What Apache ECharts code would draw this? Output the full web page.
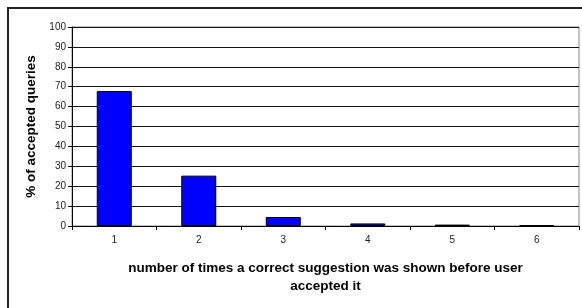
<!DOCTYPE html>
<html>
<head>
<meta charset="utf-8">
<script src="https://cdn.jsdelivr.net/npm/echarts@6/dist/echarts.min.js"></script>
<style>
  html, body { margin: 0; padding: 0; background: #fff; }
  #chart { width: 582px; height: 308px; }
</style>
</head>
<body>
<div id="chart"></div>
<script>
let categories = ['1', '2', '3', '4', '5', '6'];
let percentAccepted = [67.8, 25.3, 4.5, 1.3, 0.7, 0.4];

let chart = echarts.init(document.getElementById('chart'));

let options = {
    backgroundColor: '#fff',
    animation: false,
    textStyle: { fontFamily: 'Liberation Sans, Arial, sans-serif' },
    graphic: [{
        type: 'rect',
        shape: { x: 8, y: 8, width: 600, height: 330 },
        style: { fill: 'none', stroke: '#222', lineWidth: 2 },
        silent: true
    }, {
        type: 'rect',
        shape: { x: 72, y: 27, width: 507, height: 199 },
        style: { fill: 'none', stroke: '#888', lineWidth: 1 },
        silent: true
    }],
    grid: {
        left: 72,
        top: 27,
        width: 507,
        height: 199
    },
    xAxis: {
        type: 'category',
        data: categories,
        boundaryGap: true,
        name: 'number of times a correct suggestion was shown before user\naccepted it',
        nameLocation: 'middle',
        nameGap: 33,
        nameTextStyle: { fontSize: 13.5, fontWeight: 'bold', color: '#000', lineHeight: 18 },
        axisLine: { lineStyle: { color: '#000', width: 1 } },
        axisTick: { show: true, alignWithLabel: false, length: 4, lineStyle: { color: '#000' } },
        axisLabel: { fontSize: 10, color: '#222', margin: 9 },
        splitLine: { show: false }
    },
    yAxis: {
        type: 'value',
        min: 0,
        max: 100,
        interval: 10,
        name: '% of accepted queries',
        nameLocation: 'middle',
        nameGap: 30,
        nameTextStyle: { fontSize: 13.5, fontWeight: 'bold', color: '#000' },
        axisLine: { show: true, lineStyle: { color: '#000' } },
        axisTick: { show: true, length: 4, lineStyle: { color: '#000' } },
        axisLabel: { fontSize: 10, color: '#222', margin: 6 },
        splitLine: { show: true, lineStyle: { color: '#111', width: 1 } }
    },
    series: [{
        type: 'bar',
        data: percentAccepted,
        barWidth: 35,
        itemStyle: {
            color: '#0000ff',
            borderColor: '#000',
            borderWidth: 1
        }
    }]
};
chart.setOption(options);
</script>
</body>
</html>
